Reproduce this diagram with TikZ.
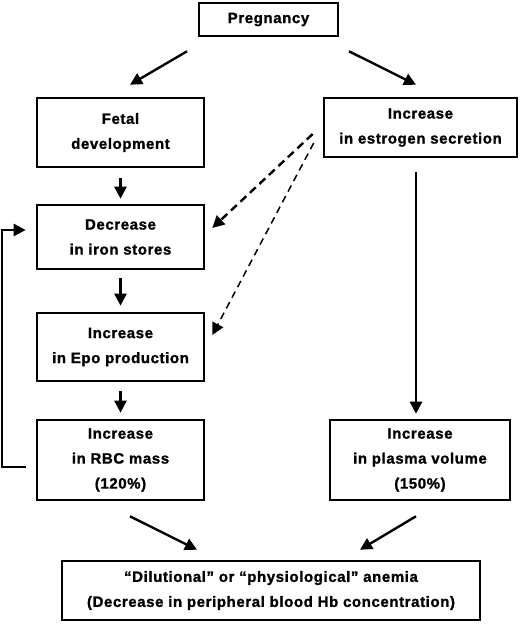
\documentclass[tikz,border=0pt]{standalone}
\usepackage{fontspec}
\setmainfont{Liberation Sans}[LetterSpace=4, BoldFeatures={FakeBold=1.2}]
\usepackage{tikz}
\usetikzlibrary{arrows.meta, positioning, calc}
\tikzstyle{box} = [rectangle, draw=black, line width=2.6pt, align=center, inner sep=2pt, font=\fontsize{15}{25}\selectfont\bfseries]
\tikzstyle{arrow} = [line width=2.4pt, -{Triangle[length=12pt,width=12pt]}]
\tikzstyle{dasharrow} = [arrow, dash pattern=on 8pt off 5pt]
\tikzstyle{thindash} = [line width=1.5pt, dash pattern=on 7pt off 5pt, -{Triangle[length=12pt,width=12pt]}]

\begin{document}
\begin{tikzpicture}[x=1pt, y=-1pt]
    \useasboundingbox (0,0) rectangle (520,624);
    % Boxes
    \node[box, minimum width=139pt, minimum height=33pt] (preg) at (268.5,19.5) {Pregnancy};
    \node[box, minimum width=167pt, minimum height=69pt] (fetal) at (120.5,132.5) {Fetal\\development};
    \node[box, minimum width=193pt, minimum height=59pt] (estr) at (420.5,127.5) {Increase\\in estrogen secretion};
    \node[box, minimum width=167pt, minimum height=64pt] (decr) at (120.5,237) {Decrease\\in iron stores};
    \node[box, minimum width=167pt, minimum height=68pt] (epo) at (120.5,347) {Increase\\in Epo production};
    \node[box, minimum width=167pt, minimum height=80pt] (rbc) at (120.5,460) {Increase\\in RBC mass\\(120\%)};
    \node[box, minimum width=180pt, minimum height=80pt] (plasma) at (420,460) {Increase\\in plasma volume\\(150\%)};
    \node[box, minimum width=418pt, minimum height=59pt] (anemia) at (271,590.5) {“Dilutional” or “physiological” anemia\\(Decrease in peripheral blood Hb concentration)};

    % Flow
    \draw[arrow] ([xshift=-81.5pt,yshift=-14pt]preg.south) -- ([xshift=9.5pt,yshift=12pt]fetal.north);
    \draw[arrow] ([xshift=80.5pt,yshift=-14pt]preg.south) -- ([xshift=-4.5pt,yshift=12pt]estr.north);
    \draw[arrow, shorten <=10pt, shorten >=5pt] (fetal) -- (decr);
    \draw[arrow, shorten <=8pt, shorten >=6pt] (decr) -- (epo);
    \draw[arrow, shorten <=9pt, shorten >=6pt] (epo) -- (rbc);
    \draw[arrow] ([xshift=-4.5pt,yshift=-14pt]estr.south) -- ([xshift=-4pt,yshift=5pt]plasma.north);
    \draw[dasharrow] ([xshift=-10pt,yshift=-6.5pt]estr.west) -- ([xshift=7pt,yshift=9pt]decr.east);
    \draw[thindash] ([xshift=-9pt,yshift=-15.5pt]estr.west) -- ([xshift=7pt,yshift=12pt]epo.east);

    % Feedback loop
    \draw[arrow] ([xshift=-10pt,yshift=-7pt]rbc.west) -- ++(-24pt,0) |- ([xshift=-10pt,yshift=7pt]decr.west);

    % To anemia
    \draw[arrow] ([xshift=9.5pt,yshift=-15pt]rbc.south) -- ([xshift=-74pt,yshift=10pt]anemia.north);
    \draw[arrow] ([xshift=-4pt,yshift=-15pt]plasma.south) -- ([xshift=89pt,yshift=10pt]anemia.north);
\end{tikzpicture}
\end{document}
